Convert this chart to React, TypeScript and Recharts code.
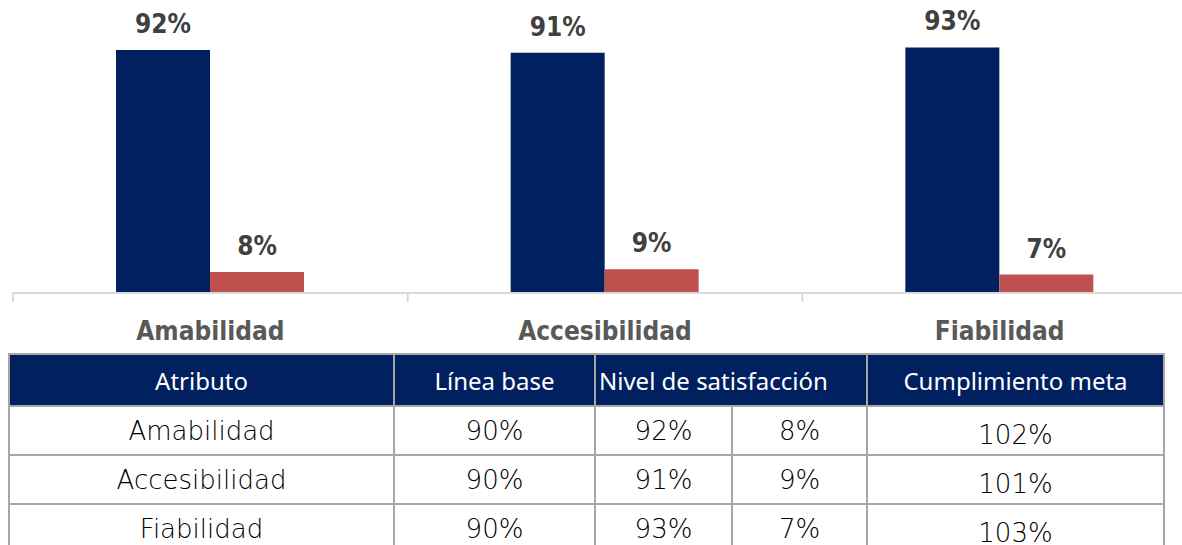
import React from "react";
import { Bar, BarChart, LabelList, XAxis, YAxis } from "recharts";

const categories = ["Amabilidad", "Accesibilidad", "Fiabilidad"];
const satisfied = [92, 91, 93];
const unsatisfied = [8, 9, 7];
const baseline = [90, 90, 90];
const goalMet = [102, 101, 103];

const NAVY = "#002060";
const RED = "#C0504D";
const GRID = "#d9d9d9";
const CHART_FONT = "'DejaVu Sans Condensed', 'DejaVu Sans', sans-serif";
const HEAD_FONT = "'Noto Sans', 'Open Sans', sans-serif";
const BODY_FONT = "'DejaVu Sans', sans-serif";

const chartData = categories.map((name, i) => ({
  name,
  sat: satisfied[i],
  unsat: unsatisfied[i],
}));

const pct = (v: unknown) => `${v}%`;

// category label + the small separator tick at the left edge of each band
const CategoryTick = ({ x, y, payload }: any) => {
  const half = payload?.offset ?? 197;
  return (
    <g>
      <line x1={x - half} x2={x - half} y1={y} y2={y + 9} stroke={GRID} strokeWidth={2} />
      <text
        x={x}
        y={y}
        dy={47}
        textAnchor="middle"
        fill="#595959"
        fontFamily={CHART_FONT}
        fontWeight="bold"
        fontSize={26}
      >
        {payload.value}
      </text>
    </g>
  );
};

const border = "2px solid #a6a6a6";

const cell: React.CSSProperties = {
  border,
  textAlign: "center",
  padding: 0,
  fontFamily: BODY_FONT,
  fontWeight: 300,
  fontSize: 26,
  color: "#000",
};

const head: React.CSSProperties = {
  ...cell,
  background: NAVY,
  color: "#fff",
  fontFamily: HEAD_FONT,
  fontWeight: 400,
  fontSize: 24,
  height: 50,
};

const App: React.FC = () => {
  return (
    <div
      style={{
        position: "absolute",
        left: 0,
        top: 0,
        width: 1182,
        height: 545,
        overflow: "hidden",
        background: "#fff",
      }}
    >
      <BarChart
        width={1200}
        height={350}
        data={chartData}
        margin={{ top: 29, right: 3, bottom: 7, left: 13 }}
        barCategoryGap={103}
        barGap={0}
      >
        <YAxis hide domain={[0, 100]} />
        <XAxis
          dataKey="name"
          height={50}
          axisLine={{ stroke: GRID, strokeWidth: 2 }}
          tickLine={false}
          tickSize={0}
          tickMargin={0}
          interval={0}
          tick={<CategoryTick />}
        />
        <Bar dataKey="sat" fill={NAVY} isAnimationActive={false}>
          <LabelList
            dataKey="sat"
            position="top"
            offset={17}
            formatter={pct}
            fill="#404040"
            fontFamily={CHART_FONT}
            fontWeight="bold"
            fontSize={26}
          />
        </Bar>
        <Bar dataKey="unsat" fill={RED} isAnimationActive={false}>
          <LabelList
            dataKey="unsat"
            position="top"
            offset={17}
            formatter={pct}
            fill="#404040"
            fontFamily={CHART_FONT}
            fontWeight="bold"
            fontSize={26}
          />
        </Bar>
      </BarChart>

      <table
        style={{
          position: "absolute",
          left: 8,
          top: 353,
          width: 1155,
          borderCollapse: "collapse",
          tableLayout: "fixed",
        }}
      >
        <colgroup>
          <col style={{ width: 385 }} />
          <col style={{ width: 201 }} />
          <col style={{ width: 137 }} />
          <col style={{ width: 135 }} />
          <col style={{ width: 297 }} />
        </colgroup>
        <thead>
          <tr>
            <th style={head}>Atributo</th>
            <th style={head}>Línea base</th>
            <th colSpan={2} style={{ ...head, textAlign: "left", paddingLeft: 3 }}>
              Nivel de satisfacción
            </th>
            <th style={head}>Cumplimiento meta</th>
          </tr>
        </thead>
        <tbody>
          {categories.map((name, i) => (
            <tr key={name} style={{ height: 49 }}>
              <td style={cell}>{name}</td>
              <td style={cell}>{pct(baseline[i])}</td>
              <td style={cell}>{pct(satisfied[i])}</td>
              <td style={cell}>{pct(unsatisfied[i])}</td>
              <td style={{ ...cell, verticalAlign: "bottom", paddingBottom: 4 }}>
                {pct(goalMet[i])}
              </td>
            </tr>
          ))}
        </tbody>
      </table>
    </div>
  );
};

export default App;
